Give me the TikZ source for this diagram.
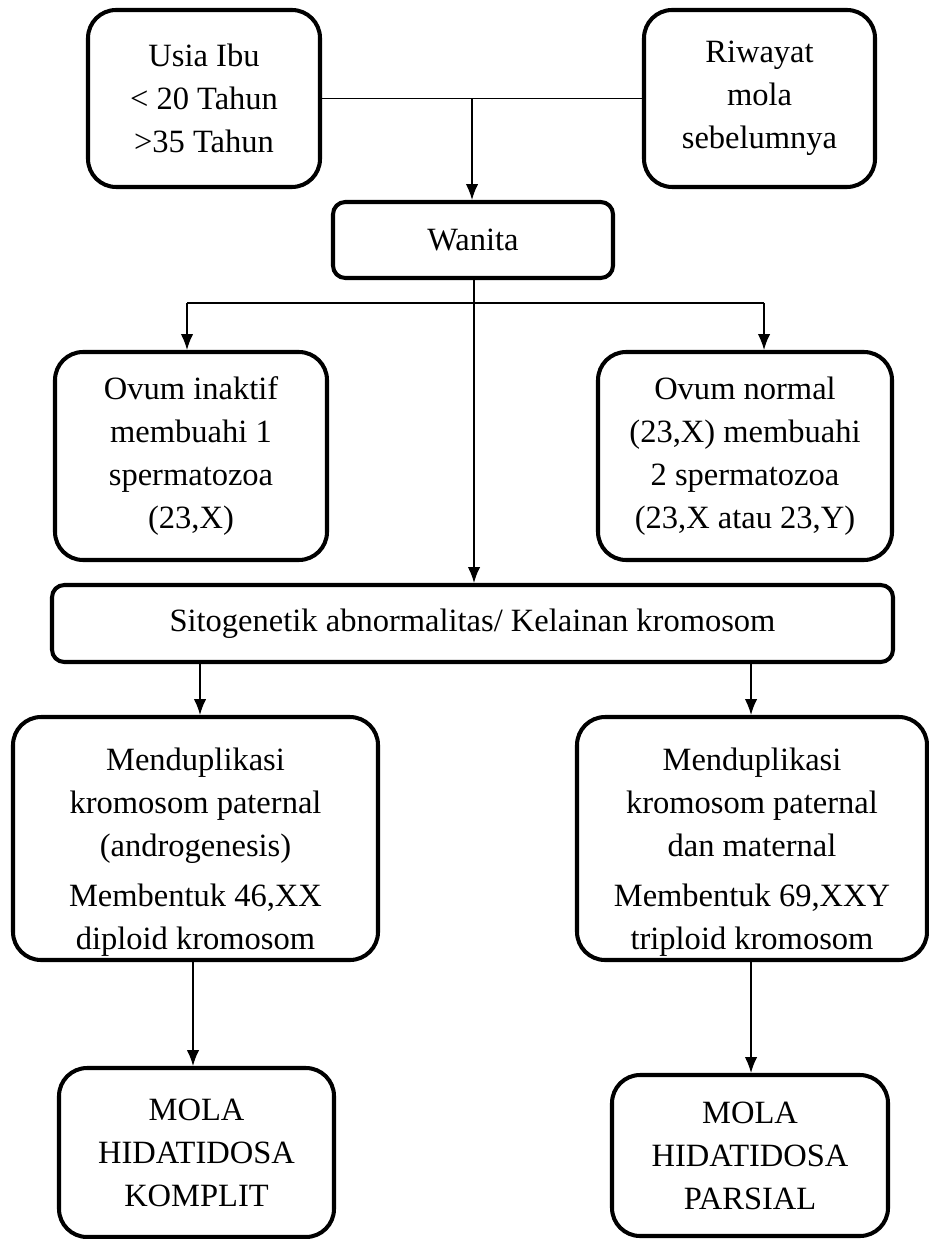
\documentclass[tikz,border=0pt]{standalone}
\usepackage{fontspec}
\setmainfont{Liberation Serif}
\usetikzlibrary{arrows.meta}
\tikzset{
    kotak/.style={draw,line width=2.3pt,rounded corners=16pt,align=center,
        font=\fontsize{18.5}{24.5}\selectfont,inner sep=0pt},
    kotakkecil/.style={kotak,rounded corners=7pt},
    panah/.style={-{Latex[length=9pt,width=7pt]},line width=0.8pt}
}
\begin{document}
\begin{tikzpicture}
    \useasboundingbox (0,0) rectangle (18.56,-24.78);

    % Faktor risiko
    \node[kotak,minimum width=4.64cm,minimum height=3.54cm] (usia) at (4.08,-1.97) {Usia Ibu\\< 20 Tahun\\>35 Tahun};
    \node[kotak,minimum width=4.62cm,minimum height=3.54cm] (riwayat) at (15.19,-1.97) {Riwayat\\mola\\sebelumnya};
    \node[kotakkecil,minimum width=5.6cm,minimum height=1.52cm] (wanita) at (9.46,-4.8) {Wanita};

    % Ovum
    \node[kotak,minimum width=5.44cm,minimum height=4.16cm] (inaktif) at (3.82,-9.12) {Ovum inaktif\\membuahi 1\\spermatozoa\\(23,X)};
    \node[kotak,minimum width=5.88cm,minimum height=4.16cm] (normal) at (14.9,-9.12) {Ovum normal\\(23,X) membuahi\\2 spermatozoa\\(23,X atau 23,Y)};
    \node[kotakkecil,minimum width=16.82cm,minimum height=1.54cm] (sito) at (9.45,-12.47) {Sitogenetik abnormalitas/ Kelainan kromosom};

    % Duplikasi
    \node[kotak,minimum width=7.3cm,minimum height=4.86cm] (dup1) at (3.91,-16.77) {\rule{0pt}{28pt}Menduplikasi\\kromosom paternal\\(androgenesis)\\[4pt]Membentuk 46,XX\\diploid kromosom};
    \node[kotak,minimum width=7.0cm,minimum height=4.86cm] (dup2) at (15.04,-16.77) {\rule{0pt}{28pt}Menduplikasi\\kromosom paternal\\dan maternal\\[4pt]Membentuk 69,XXY\\triploid kromosom};

    % Hasil
    \node[kotak,minimum width=5.5cm,minimum height=3.38cm] (komplit) at (3.93,-23.05) {MOLA\\HIDATIDOSA\\KOMPLIT};
    \node[kotak,minimum width=5.52cm,minimum height=3.22cm] (parsial) at (15.0,-23.11) {MOLA\\HIDATIDOSA\\PARSIAL};

    % Garis penghubung
    \coordinate (j1) at (9.44,-1.97);
    \coordinate (j2) at (9.48,-6.06);
    \coordinate (kiri) at (3.74,-6.06);
    \coordinate (kanan) at (15.28,-6.06);
    \draw[line width=0.8pt] (usia.east) -- (riwayat.west);
    \draw[panah] (j1) -- (j1 |- wanita.north);
    \draw[panah] (j2 |- wanita.south) -- (j2 |- sito.north);
    \draw[line width=0.8pt] (kiri) -- (kanan);
    \draw[panah] (kiri) -- (kiri |- inaktif.north);
    \draw[panah] (kanan) -- (kanan |- normal.north);

    \draw[panah] (4,0 |- sito.south) -- (4,0 |- dup1.north);
    \draw[panah] (15.02,0 |- sito.south) -- (15.02,0 |- dup2.north);
    \draw[panah] (3.86,0 |- dup1.south) -- (3.86,0 |- komplit.north);
    \draw[panah] (15.02,0 |- dup2.south) -- (15.02,0 |- parsial.north);

\end{tikzpicture}
\end{document}
